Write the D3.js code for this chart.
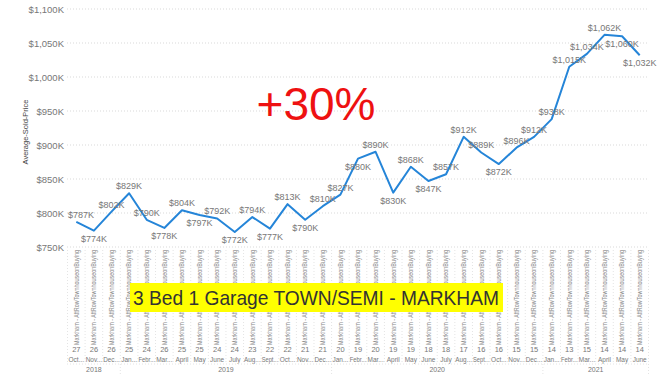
<!DOCTYPE html>
<html>
<head>
<meta charset="utf-8">
<script src="https://cdn.jsdelivr.net/npm/d3@7"></script>
<style>
  body { margin: 0; background: #fff; }
  svg { display: block; font-family: "Liberation Sans", Arial, sans-serif; }
</style>
</head>
<body>
<div class="chart"></div>
<script>
// month labels as shown (truncated by the chart)
var months = ["Oct...", "Nov...", "Dec...",
  "Jan...", "Febr...", "Mar...", "April", "May", "June", "July", "Aug...", "Sept...", "Oct...", "Nov...", "Dec...",
  "Jan...", "Febr...", "Mar...", "April", "May", "June", "July", "Aug...", "Sept...", "Oct...", "Nov...", "Dec...",
  "Jan...", "Febr...", "Mar...", "April", "May", "June"];
var years = ["2018", "2019", "2020", "2021"];
var yearOfMonth = [0, 0, 0, 1, 1, 1, 1, 1, 1, 1, 1, 1, 1, 1, 1, 2, 2, 2, 2, 2, 2, 2, 2, 2, 2, 2, 2, 3, 3, 3, 3, 3, 3];
var counts = [27, 26, 26, 25, 24, 26, 25, 25, 24, 24, 23, 22, 22, 21, 21, 20, 19, 20, 19, 19, 18, 18, 17, 16, 16, 15, 15, 14, 13, 15, 14, 14, 14];
var prices = [787, 774, 802, 829, 790, 778, 804, 797, 792, 772, 794, 777, 813, 790, 810, 827, 880, 890, 830, 868, 847, 857, 912, 889, 872, 896, 912, 938, 1015, 1034, 1062, 1060, 1032];
var yTicks = [750, 800, 850, 900, 950, 1000, 1050, 1100];
var labelsBelow = [1, 5, 7, 9, 11, 13, 16, 18, 20, 24, 31, 32];
var seriesName = "Markham - AttRowTownhouseonBuying";

var width = 666, height = 375;
var svg = d3.select(".chart").append("svg")
  .attr("width", width).attr("height", height);

var idx = d3.range(prices.length);
var x = d3.scaleBand().domain(idx).range([67.5, 648.5]).padding(0);
var y = d3.scaleLinear().domain([750, 1100]).range([247, 9]);
var cx = function(i) { return x(i) + x.bandwidth() / 2; };

// gridlines
svg.append("g").selectAll("line")
  .data(yTicks).enter().append("line")
  .attr("x1", 67).attr("x2", 648)
  .attr("y1", function(d) { return y(d); })
  .attr("y2", function(d) { return y(d); })
  .attr("stroke", "#d9d9d9")
  .attr("stroke-dasharray", "1,2");

var yAxis = svg.append("g")
  .attr("transform", "translate(64,0)")
  .call(d3.axisLeft(y).tickValues(yTicks).tickSize(0).tickPadding(0)
    .tickFormat(function(d) { return "$" + d3.format(",")(d) + "K"; }));
yAxis.select(".domain").remove();
yAxis.selectAll("text")
  .attr("fill", "#777")
  .attr("font-size", "9.5px")
  .attr("font-family", "Liberation Sans, Arial, sans-serif");

svg.append("text")
  .text("Average-Sold-Price")
  .attr("transform", "translate(28,132) rotate(-90)")
  .attr("text-anchor", "middle")
  .attr("font-size", "7.5px")
  .attr("fill", "#444");

// x axis category area
var xa = svg.append("g");
xa.selectAll("line.sep")
  .data(d3.range(prices.length + 1)).enter().append("line")
  .attr("class", "sep")
  .attr("x1", function(i) { return 67.5 + i * x.bandwidth(); })
  .attr("x2", function(i) { return 67.5 + i * x.bandwidth(); })
  .attr("y1", 250).attr("y2", 364)
  .attr("stroke", "#e4e4e4")
  .attr("stroke-dasharray", "1,2");

xa.selectAll("text.series")
  .data(idx).enter().append("text")
  .attr("class", "series")
  .text(seriesName)
  .attr("transform", function(i) { return "translate(" + (cx(i) + 2.3) + ",345) rotate(-90)"; })
  .attr("textLength", 95)
  .attr("lengthAdjust", "spacingAndGlyphs")
  .attr("font-size", "6.5px")
  .attr("fill", "#8a8a8a");

xa.selectAll("text.count")
  .data(idx).enter().append("text")
  .attr("class", "count")
  .text(function(i) { return counts[i]; })
  .attr("x", cx).attr("y", 352)
  .attr("text-anchor", "middle")
  .attr("font-size", "7.5px")
  .attr("fill", "#777");

xa.selectAll("text.month")
  .data(idx).enter().append("text")
  .attr("class", "month")
  .text(function(i) { return months[i]; })
  .attr("x", cx).attr("y", 362)
  .attr("text-anchor", "middle")
  .attr("font-size", "6.5px")
  .attr("fill", "#777")
  .each(function() {
    var w = this.getComputedTextLength();
    if (w > x.bandwidth() - 1) {
      d3.select(this).attr("textLength", x.bandwidth() - 1).attr("lengthAdjust", "spacingAndGlyphs");
    }
  });

xa.append("line")
  .attr("x1", 67).attr("x2", 648)
  .attr("y1", 364).attr("y2", 364)
  .attr("stroke", "#e4e4e4")
  .attr("stroke-dasharray", "1,2");

years.forEach(function(yr, k) {
  var members = idx.filter(function(i) { return yearOfMonth[i] === k; });
  var x0 = x(members[0]), x1 = x(members[members.length - 1]) + x.bandwidth();
  xa.append("text")
    .text(yr)
    .attr("x", (x0 + x1) / 2).attr("y", 372)
    .attr("text-anchor", "middle")
    .attr("font-size", "7px")
    .attr("fill", "#777");
  xa.append("line")
    .attr("x1", x1).attr("x2", x1)
    .attr("y1", 364).attr("y2", 375)
    .attr("stroke", "#e4e4e4")
    .attr("stroke-dasharray", "1,2");
});

// line
var line = d3.line()
  .x(function(d, i) { return cx(i); })
  .y(function(d) { return y(d); });

svg.append("path")
  .datum(prices)
  .attr("d", line)
  .attr("fill", "none")
  .attr("stroke", "#2585d8")
  .attr("stroke-width", 2)
  .attr("stroke-linejoin", "round");

svg.append("g").selectAll("text")
  .data(idx).enter().append("text")
  .text(function(i) { return "$" + d3.format(",")(prices[i]) + "K"; })
  .attr("x", function(i) { return Math.max(cx(i), 81); })
  .attr("y", function(i) { return labelsBelow.indexOf(i) >= 0 ? y(prices[i]) + 11 : y(prices[i]) - 4; })
  .attr("text-anchor", "middle")
  .attr("font-size", "9px")
  .attr("fill", "#777");

// annotations
svg.append("text")
  .text("+30%")
  .attr("x", 316).attr("y", 120)
  .attr("text-anchor", "middle")
  .attr("font-size", "46px")
  .attr("fill", "#ee1111");

svg.append("rect")
  .attr("x", 130).attr("y", 283)
  .attr("width", 373).attr("height", 29)
  .attr("fill", "#ffff00");

svg.append("text")
  .text("3 Bed 1 Garage TOWN/SEMI - MARKHAM")
  .attr("x", 133).attr("y", 305)
  .attr("textLength", 366)
  .attr("lengthAdjust", "spacingAndGlyphs")
  .attr("font-size", "21px")
  .attr("fill", "#333");
</script>
</body>
</html>
